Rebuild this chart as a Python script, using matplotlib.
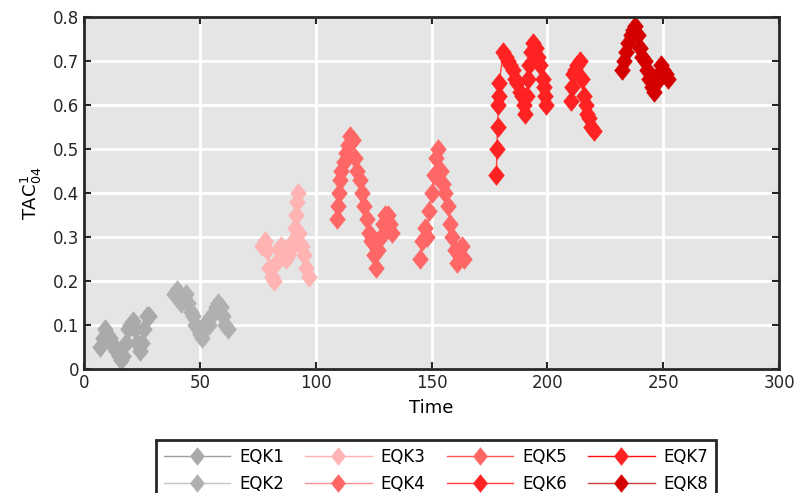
import matplotlib
matplotlib.use("Agg")
import matplotlib.pyplot as plt
from matplotlib.ticker import FuncFormatter

# time / TAC values, one pair of lists per event
t1 = [7, 8, 9, 10, 11, 12, 13, 14, 15, 16, 17, 18, 19, 20, 21, 22, 23, 24, 25, 26, 27, 28]
v1 = [0.05, 0.07, 0.09, 0.08, 0.07, 0.06, 0.05, 0.04, 0.03, 0.02, 0.03, 0.06,
      0.09, 0.10, 0.11, 0.09, 0.06, 0.04, 0.06, 0.09, 0.12, 0.12]

t2 = [39, 40, 41, 42, 43, 44, 45, 46, 47, 48, 49, 50, 51, 52, 53, 54, 55, 56, 57, 58, 59, 60, 61, 62]
v2 = [0.17, 0.18, 0.16, 0.15, 0.16, 0.17, 0.15, 0.13, 0.12, 0.10, 0.09, 0.08,
      0.07, 0.09, 0.11, 0.10, 0.12, 0.13, 0.14, 0.15, 0.14, 0.12, 0.10, 0.09]

t3 = [77, 78, 79, 80, 81, 82, 83, 84, 85, 86, 87, 88, 89, 90, 91, 91.5, 92, 92.5, 93, 94, 95, 96, 97]
v3 = [0.28, 0.29, 0.27, 0.23, 0.21, 0.20, 0.24, 0.27, 0.28, 0.26, 0.25, 0.26,
      0.27, 0.29, 0.32, 0.35, 0.38, 0.40, 0.31, 0.28, 0.26, 0.23, 0.21]

t4 = [109, 109.5, 110, 110.5, 111, 112, 113, 114, 115, 116, 117, 118, 119, 120, 121,
      122, 123, 124, 125, 126, 127, 128, 129, 130, 131, 132, 133]
v4 = [0.34, 0.37, 0.40, 0.43, 0.45, 0.47, 0.49, 0.51, 0.53, 0.52, 0.48, 0.45, 0.43,
      0.40, 0.37, 0.34, 0.31, 0.29, 0.26, 0.23, 0.27, 0.30, 0.33, 0.35, 0.35, 0.33, 0.31]

t5 = [145, 146, 147, 148, 149, 150, 151, 152, 153, 154, 155, 156, 157, 158, 159,
      160, 161, 162, 163, 164]
v5 = [0.25, 0.29, 0.32, 0.30, 0.36, 0.40, 0.44, 0.48, 0.50, 0.45, 0.42, 0.40, 0.37,
      0.33, 0.30, 0.27, 0.24, 0.26, 0.28, 0.25]

t6 = [178, 178.2, 178.5, 178.8, 179, 179.2, 181, 182, 183, 184, 185, 186, 187, 188,
      189, 190, 190.5, 191, 191.5, 192, 193, 194, 195, 196, 197, 198, 198.5, 199, 199.5]
v6 = [0.44, 0.50, 0.55, 0.60, 0.62, 0.65, 0.72, 0.71, 0.70, 0.69, 0.68, 0.66, 0.65,
      0.63, 0.62, 0.60, 0.58, 0.62, 0.66, 0.69, 0.72, 0.74, 0.73, 0.71, 0.69, 0.66,
      0.64, 0.62, 0.60]

t7 = [210, 210.5, 211, 212, 213, 214, 215, 216, 216.5, 217, 218, 219, 220]
v7 = [0.61, 0.64, 0.67, 0.68, 0.69, 0.70, 0.66, 0.62, 0.60, 0.58, 0.57, 0.55, 0.54]

t8 = [232, 233, 234, 235, 236, 237, 238, 239, 240, 241, 242, 243, 244, 245, 246,
      247, 248, 249, 250, 251, 252]
v8 = [0.68, 0.70, 0.72, 0.74, 0.76, 0.77, 0.78, 0.76, 0.73, 0.71, 0.70, 0.68, 0.66,
      0.64, 0.63, 0.65, 0.67, 0.69, 0.68, 0.67, 0.66]

labels = ["EQK1", "EQK2", "EQK3", "EQK4", "EQK5", "EQK6", "EQK7", "EQK8"]
marker_colors = ["#aaaaaa", "#b0b0b0", "#ffb3b3", "#ff6666", "#ff6666", "#ff2222", "#ff2222", "#d40000"]
line_colors = ["#a0a0a0", "#c4c4c4", "#ffb0b0", "#ff9090", "#ff5555", "#ff4040", "#ff1010", "#cc4040"]

times = [t1, t2, t3, t4, t5, t6, t7, t8]
values = [v1, v2, v3, v4, v5, v6, v7, v8]

diamond = [(0, 1), (0.8, 0), (0, -1), (-0.8, 0), (0, 1)]

fig = plt.figure(figsize=(8.01, 4.93), dpi=100)
ax = fig.add_axes([0.1049, 0.2515, 0.8677, 0.714])
ax.set_facecolor("#e5e5e5")

for t, v, lab, mc, lc in zip(times, values, labels, marker_colors, line_colors):
    ax.plot(t, v, color=lc, lw=1, marker=diamond, markersize=14,
            markerfacecolor=mc, markeredgecolor=mc, markeredgewidth=0.5, label=lab)

ax.set_xlim(0, 300)
ax.set_ylim(0, 0.8)
ax.set_xticks([0, 50, 100, 150, 200, 250, 300])
ax.set_yticks([0, 0.1, 0.2, 0.3, 0.4, 0.5, 0.6, 0.7, 0.8])
ax.yaxis.set_major_formatter(FuncFormatter(lambda y, p: "0" if y == 0 else f"{y:.1f}"))
ax.grid(True, color="white", lw=2)
ax.set_axisbelow(True)
ax.tick_params(direction="in", length=5, width=1.5, top=True, right=True,
               labelsize=12, colors="#262626")
for s in ax.spines.values():
    s.set_linewidth(2)
    s.set_color("#262626")

ax.set_xlabel("Time", fontsize=13, labelpad=5)
ax.set_ylabel(r"TAC$^{1}_{04}$", fontsize=13, labelpad=6)

leg = fig.legend(loc="upper left", bbox_to_anchor=(156 / 801, 1 - 440 / 493), ncol=4,
                 fontsize=12, handlelength=4.0, handletextpad=0.55, columnspacing=1.25,
                 labelspacing=0.55, borderaxespad=0, fancybox=False, framealpha=1,
                 edgecolor="#262626", borderpad=0.45, markerscale=0.9)
leg.get_frame().set_linewidth(2)

fig.savefig("out.png", dpi=100)
